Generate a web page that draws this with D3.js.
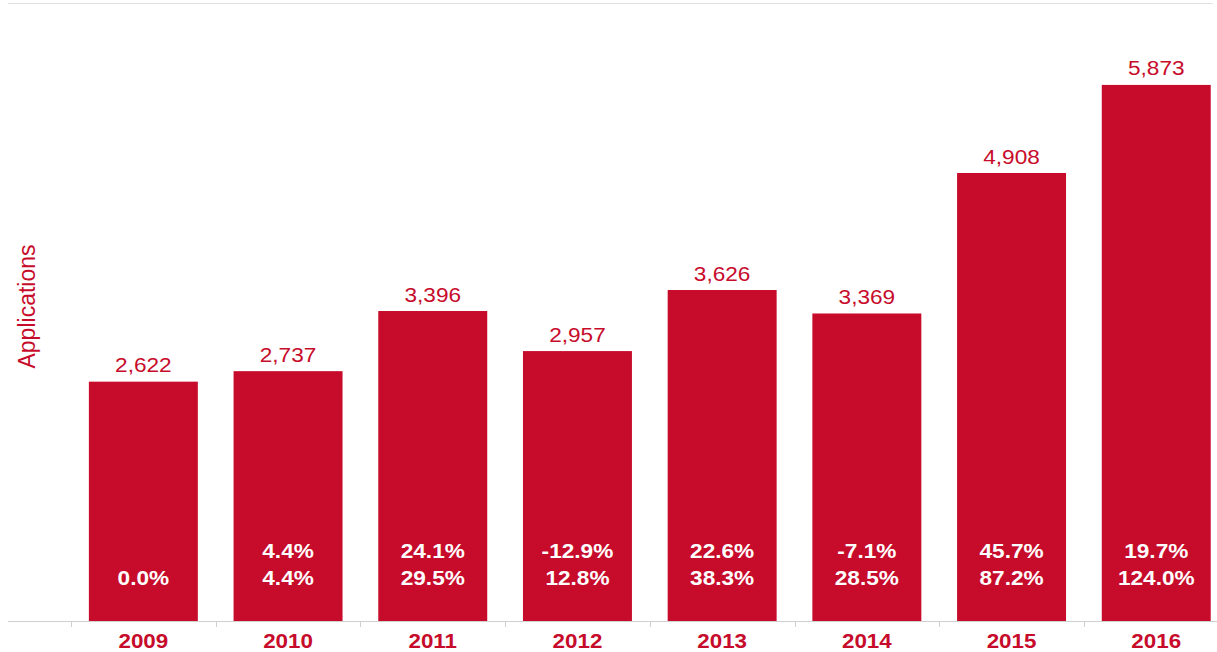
<!DOCTYPE html>
<html>
<head>
<meta charset="utf-8">
<script src="https://cdn.jsdelivr.net/npm/d3@7"></script>
<style>
  html, body { margin: 0; padding: 0; background: #fff; }
  svg { display: block; font-family: "Liberation Sans", Arial, sans-serif; }
</style>
</head>
<body>
<svg id="chart" width="1217" height="652"></svg>
<script>
// Yearly applications with year-on-year change and cumulative change since 2009
const years = ["2009", "2010", "2011", "2012", "2013", "2014", "2015", "2016"];
const applications = [2622, 2737, 3396, 2957, 3626, 3369, 4908, 5873];
const yoyChange = [null, "4.4%", "24.1%", "-12.9%", "22.6%", "-7.1%", "45.7%", "19.7%"];
const cumulativeChange = ["0.0%", "4.4%", "29.5%", "12.8%", "38.3%", "28.5%", "87.2%", "124.0%"];

const red = "#c70b2b";
const stretch = 1.12;   // labels are set slightly wide
const svg = d3.select("#chart");

const baseY = 621;
const x = d3.scaleBand()
  .domain(years)
  .range([71, 71 + 8 * 144.7])
  .paddingInner(0.247)
  .paddingOuter(0.1235);

const y = d3.scaleLinear()
  .domain([0, 6765])
  .range([baseY, 3.5]);

const cx = d => x(d.year) + x.bandwidth() / 2;
const place = (px, py) => `translate(${px},${py}) scale(${stretch},1)`;

// frame line at the top of the plot
svg.append("line")
  .attr("x1", 8).attr("x2", 1213)
  .attr("y1", y(6765)).attr("y2", y(6765))
  .attr("stroke", "#e2e2e2").attr("stroke-width", 1);

const rows = years.map((yr, i) => ({
  year: yr, value: applications[i], yoy: yoyChange[i], cum: cumulativeChange[i]
}));

// bars
svg.append("g").selectAll("rect")
  .data(rows).join("rect")
  .attr("x", d => x(d.year))
  .attr("width", x.bandwidth())
  .attr("y", d => y(d.value))
  .attr("height", d => baseY - y(d.value))
  .attr("fill", red);

// value labels above the bars
svg.append("g").selectAll("text")
  .data(rows).join("text")
  .attr("transform", d => place(cx(d), y(d.value) - 9.5))
  .attr("text-anchor", "middle")
  .attr("font-size", 20.2)
  .attr("fill", red)
  .text(d => d3.format(",")(d.value));

// percentage labels inside the bars
const pct = svg.append("g")
  .attr("font-size", 20.2)
  .attr("font-weight", "bold")
  .attr("fill", "#fff")
  .attr("text-anchor", "middle");

pct.selectAll("text.yoy")
  .data(rows.filter(d => d.yoy)).join("text")
  .attr("class", "yoy")
  .attr("transform", d => place(cx(d), 557.5))
  .text(d => d.yoy);

pct.selectAll("text.cum")
  .data(rows).join("text")
  .attr("class", "cum")
  .attr("transform", d => place(cx(d), 584.5))
  .text(d => d.cum);

// x axis
const axis = svg.append("g")
  .attr("transform", `translate(0,${baseY})`)
  .call(d3.axisBottom(x).tickSize(0).tickPadding(0));
axis.select(".domain").remove();
axis.selectAll(".tick text")
  .attr("y", 0)
  .attr("dy", 0)
  .attr("transform", place(0, 26.5))
  .attr("font-size", 20)
  .attr("font-weight", "bold")
  .attr("font-family", "Liberation Sans, Arial, sans-serif")
  .attr("fill", red);

// baseline and category separators
svg.append("line")
  .attr("x1", 8).attr("x2", 1217)
  .attr("y1", baseY + 0.5).attr("y2", baseY + 0.5)
  .attr("stroke", "#cfcfcf").attr("stroke-width", 1.2);

svg.append("g").selectAll("line")
  .data(years).join("line")
  .attr("x1", d => Math.round(x(d) - x.step() * x.paddingOuter()) + 0.5)
  .attr("x2", d => Math.round(x(d) - x.step() * x.paddingOuter()) + 0.5)
  .attr("y1", baseY).attr("y2", baseY + 6)
  .attr("stroke", "#cfcfcf").attr("stroke-width", 1);

// y axis title
svg.append("text")
  .attr("transform", "translate(35,306.5) rotate(-90)")
  .attr("text-anchor", "middle")
  .attr("font-size", 23)
  .attr("fill", red)
  .text("Applications");
</script>
</body>
</html>
